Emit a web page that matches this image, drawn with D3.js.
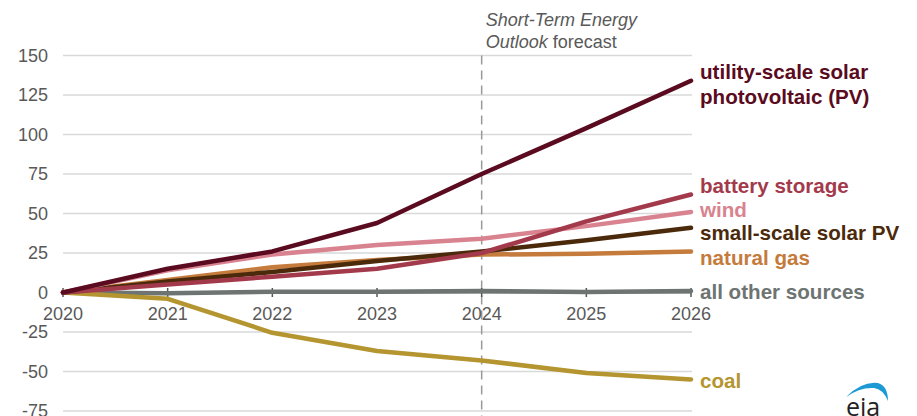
<!DOCTYPE html>
<html lang="en">
<head>
<meta charset="UTF-8">
<title>Capacity change since 2020</title>
<script src="https://d3js.org/d3.v7.min.js"></script>
<style>
    body { margin: 0; background: #fff; }
    svg { display: block; font-family: "Liberation Sans", Arial, sans-serif; }
    .tick-label { fill: #595959; font-size: 18px; }
    .series-label { font-size: 20.6px; font-weight: bold; }
</style>
</head>
<body>
<svg id="chart" width="917" height="416"></svg>
<script>
// data: cumulative change since 2020
const years = [2020, 2021, 2022, 2023, 2024, 2025, 2026];
const yTicks = [150, 125, 100, 75, 50, 25, 0, -25, -50, -75];

const utilitySolar = [0, 15, 26, 44, 75, 104, 134];
const battery      = [0, 5, 10, 15, 25, 45, 62];
const wind         = [0, 14, 24, 30, 34, 42, 51];
const smallSolar   = [0, 7, 13, 20, 26, 33, 41];
const naturalGas   = [0, 8, 16, 20.5, 24, 24.5, 26];
const otherSources = [0, -0.5, 0.5, 0.5, 1, 0.3, 1];
const coal         = [0, -4, -25.5, -37, -43, -51, -55];

const seriesNames = ['all other sources', 'coal', 'natural gas', 'small-scale solar PV', 'wind', 'battery storage', 'utility-scale solar photovoltaic (PV)'];
const seriesValues = [otherSources, coal, naturalGas, smallSolar, wind, battery, utilitySolar];

// styling / layout
const colors = ['#6d7472', '#b5952f', '#c47b3c', '#4b2a0c', '#d8838f', '#a33a4c', '#5a0b20'];
const labelLines = [['all other sources'], ['coal'], ['natural gas'], ['small-scale solar PV'], ['wind'], ['battery storage'], ['utility-scale solar', 'photovoltaic (PV)']];
const labelDy = [1, 1, 6, 5, -2, -9, -9];

const svg = d3.select('#chart');
const x = d3.scaleLinear().domain([2020, 2026]).range([63, 691]);
const y = d3.scaleLinear().domain([0, 150]).range([292.5, 55.5]);

// gridlines
svg.append('g')
    .selectAll('line')
    .data(yTicks.filter(d => d !== 0))
    .join('line')
    .attr('x1', x(2020)).attr('x2', x(2026) + 1)
    .attr('y1', d => y(d)).attr('y2', d => y(d))
    .attr('stroke', '#d9d9d9')
    .attr('stroke-width', 1.5);

// y tick labels
svg.append('g')
    .selectAll('text')
    .data(yTicks)
    .join('text')
    .attr('class', 'tick-label')
    .attr('x', 48)
    .attr('y', d => y(d))
    .attr('dy', '0.35em')
    .attr('text-anchor', 'end')
    .text(d => d);

// forecast divider
svg.append('line')
    .attr('x1', x(2024)).attr('x2', x(2024))
    .attr('y1', y(150)).attr('y2', 416)
    .attr('stroke', '#999')
    .attr('stroke-width', 1.5)
    .attr('stroke-dasharray', '9,6');

const note = svg.append('text')
    .attr('x', x(2024) + 4)
    .attr('y', 26)
    .attr('fill', '#595959')
    .attr('font-size', 18);
note.append('tspan').attr('font-style', 'italic').text('Short-Term Energy');
const note2 = svg.append('text')
    .attr('x', x(2024) + 4)
    .attr('y', 48)
    .attr('fill', '#595959')
    .attr('font-size', 18);
note2.append('tspan').attr('font-style', 'italic').text('Outlook');
note2.append('tspan').text(' forecast');

// zero axis with year ticks
svg.append('line')
    .attr('x1', x(2020)).attr('x2', x(2026))
    .attr('y1', y(0)).attr('y2', y(0))
    .attr('stroke', '#6d7472')
    .attr('stroke-width', 2);
svg.append('g')
    .selectAll('line')
    .data(years)
    .join('line')
    .attr('x1', d => x(d)).attr('x2', d => x(d))
    .attr('y1', y(0) - 4.5).attr('y2', y(0) + 4.5)
    .attr('stroke', '#555')
    .attr('stroke-width', 1.5);
svg.append('g')
    .selectAll('text')
    .data(years)
    .join('text')
    .attr('class', 'tick-label')
    .attr('x', d => x(d))
    .attr('y', 320)
    .attr('text-anchor', 'middle')
    .text(d => d);

// series lines
const line = d3.line()
    .x((d, i) => x(years[i]))
    .y(d => y(d));

svg.append('g')
    .selectAll('path')
    .data(seriesValues)
    .join('path')
    .attr('d', d => line(d))
    .attr('fill', 'none')
    .attr('stroke', (d, i) => colors[i])
    .attr('stroke-width', 4.5)
    .attr('stroke-linecap', 'round')
    .attr('stroke-linejoin', 'round');

// end labels
const labels = svg.append('g')
    .selectAll('text')
    .data(seriesValues)
    .join('text')
    .attr('class', 'series-label')
    .attr('fill', (d, i) => colors[i])
    .attr('x', 700)
    .attr('y', (d, i) => y(d[d.length - 1]) + labelDy[i]);
labels.each(function(d, i) {
    const t = d3.select(this);
    labelLines[i].forEach((s, k) => {
        t.append('tspan')
            .attr('x', 700)
            .attr('dy', k === 0 ? '0.35em' : '1.2em')
            .text(s);
    });
});

// eia mark
const logo = svg.append('g');
logo.append('path')
    .attr('d', 'M846,397 Q862,381 878,383 Q888,386 888,401 Q883,389 874,388 Q860,387 846,397 Z')
    .attr('fill', '#1c9ad6');
logo.append('text')
    .attr('x', 846)
    .attr('y', 416)
    .attr('fill', '#222')
    .attr('font-size', 25)
    .attr('font-family', '"Open Sans", sans-serif')
    .text('eia');
</script>
</body>
</html>
